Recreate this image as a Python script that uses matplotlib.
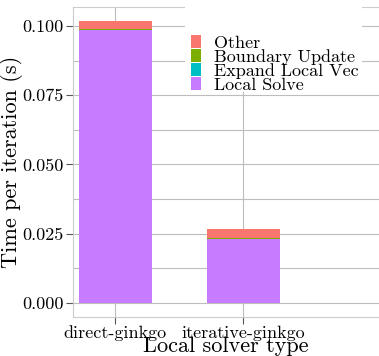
import numpy as np
import matplotlib
matplotlib.use("Agg")
import matplotlib.pyplot as plt
from matplotlib.patches import Rectangle
from matplotlib.ticker import MultipleLocator, FormatStrFormatter

plt.rcParams['font.family'] = 'cmr10'
plt.rcParams['mathtext.fontset'] = 'cm'
plt.rcParams['axes.unicode_minus'] = False

# Time per iteration, split by component
solvers = ['direct-ginkgo', 'iterative-ginkgo']
local_solve = [0.0984, 0.0232]
expand_local_vec = [0.00005, 0.00005]
boundary_update = [0.0003, 0.0003]
other = [0.0030, 0.0030]

components = [
    ('Local Solve', local_solve, '#C77CFF'),
    ('Expand Local Vec', expand_local_vec, '#00BFC4'),
    ('Boundary Update', boundary_update, '#7CAE00'),
    ('Other', other, '#F8766D'),
]

fig = plt.figure(figsize=(3.79, 3.56), dpi=100)
ax = fig.add_axes([0.1926, 0.1096, 0.8074, 0.8707])

x = np.arange(len(solvers))
bottom = np.zeros(len(solvers))
handles = []
for name, vals, color in components:
    b = ax.bar(x, vals, width=0.57, bottom=bottom, color=color,
               linewidth=0, label=name, zorder=3)
    bottom += np.array(vals)
    handles.append(b)

total_max = bottom.max()
ax.set_ylim(-0.05 * total_max, 1.05 * total_max)
ax.set_xlim(-0.33, 2.06)

ax.set_xticks(x)
ax.set_xticklabels(solvers, fontsize=13)
ax.yaxis.set_major_locator(MultipleLocator(0.025))
ax.yaxis.set_minor_locator(MultipleLocator(0.0125))
ax.yaxis.set_major_formatter(FormatStrFormatter('%.3f'))
ax.tick_params(axis='y', labelsize=13, length=5, width=0.8, color='#555555', pad=2)
ax.tick_params(axis='x', length=5, width=0.8, color='#555555', pad=1)
ax.tick_params(axis='y', which='minor', length=0)

# Light grey grid and panel border
ax.set_axisbelow(True)
ax.grid(True, axis='y', which='both', color='#bdbdbd', linewidth=0.8)
ax.grid(True, axis='x', which='major', color='#bdbdbd', linewidth=0.8)
for side in ['left', 'bottom', 'top']:
    ax.spines[side].set_color('#cccccc')
    ax.spines[side].set_linewidth(0.8)
ax.spines['right'].set_visible(False)

ax.set_xlabel('Local solver type', fontsize=16, labelpad=-3)
ax.set_ylabel('Time per iteration (s)', fontsize=16, labelpad=-1)

# White backing box behind the legend
ax.add_patch(Rectangle((0.366, 0.726), 0.578, 0.29, transform=ax.transAxes,
                       facecolor='white', edgecolor='none', zorder=4,
                       clip_on=False))

leg = ax.legend(handles[::-1], [c[0] for c in components][::-1],
                loc='upper left', bbox_to_anchor=(0.386, 0.91),
                fontsize=13, frameon=False,
                handlelength=0.55, handleheight=0.75, handletextpad=0.7,
                labelspacing=-0.1, borderpad=0, borderaxespad=0)
leg.set_zorder(5)

fig.savefig('out.png', dpi=100)
